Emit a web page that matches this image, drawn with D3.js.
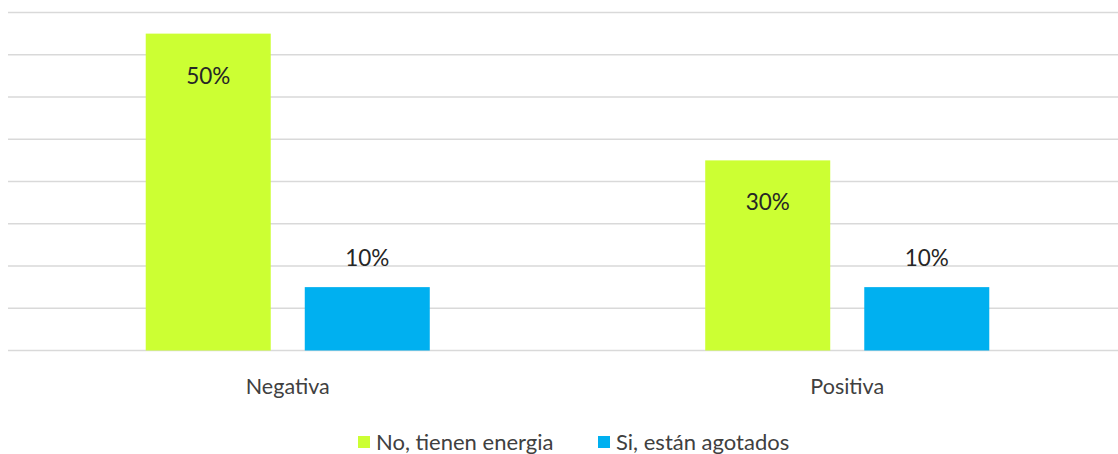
<!DOCTYPE html>
<html>
<head>
<meta charset="utf-8">
<script src="https://cdn.jsdelivr.net/npm/d3@7"></script>
<style>
  body { margin: 0; background: #fff; }
  svg { display: block; font-family: Lato, "Noto Sans", sans-serif; }
</style>
</head>
<body>
<div id="chart"></div>
<script>
// categorias y series (conteos, etiquetas en %)
const categories = ['Negativa', 'Positiva']
const seriesNames = ['No, tienen energia', 'Si, están agotados']
const seriesColors = ['#ccff33', '#00b0f0']
const noValues = [15, 9]
const siValues = [3, 3]
const noLabels = ['50%', '30%']
const siLabels = ['10%', '10%']
const yTicks = [0, 2, 4, 6, 8, 10, 12, 14, 16]

const W = 1118, H = 454
const svg = d3.select('#chart').append('svg')
    .attr('width', W)
    .attr('height', H)

const x = d3.scaleBand()
    .domain(categories)
    .range([8, 1127])
    .padding(0)

const xSub = d3.scaleBand()
    .domain(seriesNames)
    .range([0, x.bandwidth()])
    .paddingInner(0.214)
    .paddingOuter(0.866)

const y = d3.scaleLinear()
    .domain([0, 16])
    .range([350.5, 12.5])

// lineas de la grilla
svg.append('g')
    .selectAll('line')
    .data(yTicks)
    .enter()
    .append('line')
    .attr('x1', 8)
    .attr('x2', W)
    .attr('y1', d => y(d))
    .attr('y2', d => y(d))
    .attr('stroke', '#d9d9d9')
    .attr('stroke-width', 1.5)

const rows = []
categories.forEach((c, i) => {
    rows.push({cat: c, s: seriesNames[0], v: noValues[i], label: noLabels[i], color: seriesColors[0]})
    rows.push({cat: c, s: seriesNames[1], v: siValues[i], label: siLabels[i], color: seriesColors[1]})
})

svg.append('g')
    .selectAll('rect')
    .data(rows)
    .enter()
    .append('rect')
    .attr('x', d => x(d.cat) + xSub(d.s))
    .attr('y', d => y(d.v))
    .attr('width', xSub.bandwidth())
    .attr('height', d => y(0) - y(d.v))
    .attr('fill', d => d.color)

// etiquetas de datos: dentro si la barra es alta, arriba si es baja
svg.append('g')
    .selectAll('text')
    .data(rows)
    .enter()
    .append('text')
    .attr('x', d => x(d.cat) + xSub(d.s) + xSub.bandwidth() / 2)
    .attr('y', d => d.v > 5 ? y(d.v) + 50 : y(d.v) - 21)
    .attr('text-anchor', 'middle')
    .attr('font-size', 22.5)
    .attr('fill', '#262626')
    .text(d => d.label)

// eje x
svg.append('g')
    .selectAll('text')
    .data(categories)
    .enter()
    .append('text')
    .attr('x', d => x(d) + x.bandwidth() / 2)
    .attr('y', 394)
    .attr('text-anchor', 'middle')
    .attr('font-size', 21.5)
    .attr('fill', '#404040')
    .text(d => d)

// leyenda
const legendX = [358, 598]
const legend = svg.append('g')
    .selectAll('g')
    .data(seriesNames)
    .enter()
    .append('g')
    .attr('transform', (d, i) => `translate(${legendX[i]},436)`)

legend.append('rect')
    .attr('width', 12)
    .attr('height', 12)
    .attr('fill', (d, i) => seriesColors[i])

legend.append('text')
    .attr('x', 18)
    .attr('y', 13.5)
    .attr('font-size', 22)
    .attr('fill', '#404040')
    .text(d => d)
</script>
</body>
</html>
